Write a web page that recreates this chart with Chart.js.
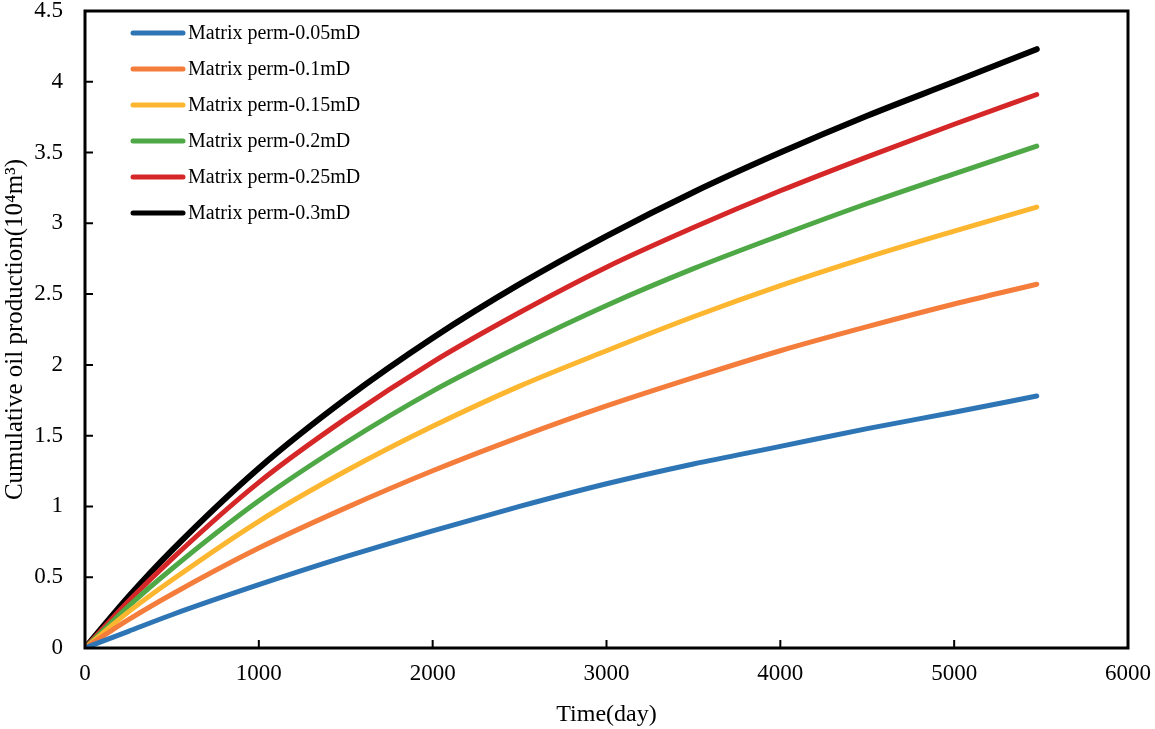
<!DOCTYPE html>
<html>
<head>
<meta charset="utf-8">
<script src="https://cdn.jsdelivr.net/npm/chart.js@4/dist/chart.umd.min.js"></script>
<style>
html,body{margin:0;padding:0;background:#fff;}
#wrap{width:1155px;height:729px;position:relative;}
</style>
</head>
<body>
<div id="wrap"><canvas id="c" width="1155" height="729"></canvas></div>
<script>
const days = [0, 250, 500, 1000, 1500, 2000, 2500, 3000, 3500, 4000, 4500, 5000, 5475];
const seriesNames = ['Matrix perm-0.05mD','Matrix perm-0.1mD','Matrix perm-0.15mD','Matrix perm-0.2mD','Matrix perm-0.25mD','Matrix perm-0.3mD'];
const perm005 = [0, 0.118, 0.235, 0.447, 0.645, 0.828, 1.00, 1.16, 1.30, 1.424, 1.55, 1.665, 1.78];
const perm010 = [0, 0.200, 0.380, 0.706, 0.990, 1.252, 1.49, 1.71, 1.91, 2.10, 2.27, 2.43, 2.57];
const perm015 = [0, 0.255, 0.480, 0.895, 1.250, 1.566, 1.85, 2.10, 2.34, 2.56, 2.76, 2.945, 3.115];
const perm020 = [0, 0.295, 0.560, 1.040, 1.450, 1.815, 2.13, 2.42, 2.68, 2.915, 3.14, 3.35, 3.545];
const perm025 = [0, 0.330, 0.630, 1.170, 1.620, 2.020, 2.37, 2.69, 2.97, 3.23, 3.47, 3.70, 3.91];
const perm030 = [0, 0.362, 0.690, 1.270, 1.760, 2.190, 2.57, 2.91, 3.22, 3.50, 3.76, 4.00, 4.23];
const xTickLabels = ['0','1000','2000','3000','4000','5000','6000'];
const yTickLabels = ['0','0.5','1','1.5','2','2.5','3','3.5','4','4.5'];
const colors = ['#2E75B6','#F47D3C','#FDB62F','#4DA845','#D62728','#000000'];

const allSeries = [perm005, perm010, perm015, perm020, perm025, perm030];
const FONT = "'Liberation Serif', 'Times New Roman', serif";

const datasets = allSeries.map((s, i) => ({
  label: seriesNames[i],
  data: days.map((d, j) => ({x: d, y: s[j]})),
  borderColor: colors[i],
  backgroundColor: colors[i],
  borderWidth: i === 5 ? 6 : 5,
  pointRadius: 0,
  fill: false,
  cubicInterpolationMode: 'monotone',
  borderCapStyle: 'round'
}));

const framePlugin = {
  id: 'frame',
  afterDraw(chart) {
    const ctx = chart.ctx, a = chart.chartArea;
    const xs = chart.scales.x, ys = chart.scales.y;
    ctx.save();
    ctx.strokeStyle = '#000';
    ctx.lineWidth = 3;
    ctx.strokeRect(a.left, a.top, a.right - a.left, a.bottom - a.top);
    ctx.lineWidth = 2;
    ctx.beginPath();
    xs.ticks.forEach(t => {
      const px = xs.getPixelForValue(t.value);
      ctx.moveTo(px, a.bottom);
      ctx.lineTo(px, a.bottom - 8);
    });
    ys.ticks.forEach(t => {
      const py = ys.getPixelForValue(t.value);
      ctx.moveTo(a.left, py);
      ctx.lineTo(a.left + 8, py);
    });
    ctx.stroke();
    // legend inside plot
    ctx.font = "20px " + FONT;
    ctx.textBaseline = 'middle';
    ctx.textAlign = 'left';
    chart.data.datasets.forEach((ds, i) => {
      const y = a.top + 22 + i * 36;
      const x0 = a.left + 48;
      ctx.strokeStyle = ds.borderColor;
      ctx.lineWidth = 5;
      ctx.lineCap = 'round';
      ctx.beginPath();
      ctx.moveTo(x0, y);
      ctx.lineTo(x0 + 50, y);
      ctx.stroke();
      ctx.fillStyle = '#000';
      ctx.fillText(ds.label, x0 + 55, y + 1);
    });
    ctx.restore();
  }
};

new Chart(document.getElementById('c'), {
  type: 'line',
  data: { datasets },
  options: {
    responsive: false,
    animation: false,
    devicePixelRatio: 1,
    layout: { padding: { top: 11, right: 27, left: 0, bottom: 0 } },
    plugins: { legend: { display: false }, tooltip: { enabled: false } },
    scales: {
      x: {
        type: 'linear', min: 0, max: 6000,
        afterFit(s) { s.height = 81; s.paddingLeft = 0; s.paddingRight = 0; },
        ticks: {
          stepSize: 1000, color: '#000', padding: 12,
          font: { family: FONT, size: 23 },
          callback: (v, i) => xTickLabels[i],
          maxRotation: 0
        },
        grid: { display: false, drawTicks: false },
        border: { display: false },
        title: { display: true, text: 'Time(day)', color: '#000', font: { family: FONT, size: 24 }, padding: { top: 5, bottom: 0 } }
      },
      y: {
        type: 'linear', min: 0, max: 4.5,
        afterFit(s) { s.width = 85; s.paddingTop = 0; s.paddingBottom = 0; },
        ticks: {
          stepSize: 0.5, color: '#000', padding: 22,
          font: { family: FONT, size: 23 },
          callback: (v, i) => yTickLabels[i]
        },
        grid: { display: false, drawTicks: false },
        border: { display: false },
        title: { display: true, text: 'Cumulative oil production(10\u2074m\u00B3)', color: '#000', font: { family: FONT, size: 25 }, padding: { top: 0, bottom: 4 } }
      }
    }
  },
  plugins: [framePlugin]
});
</script>
</body>
</html>
